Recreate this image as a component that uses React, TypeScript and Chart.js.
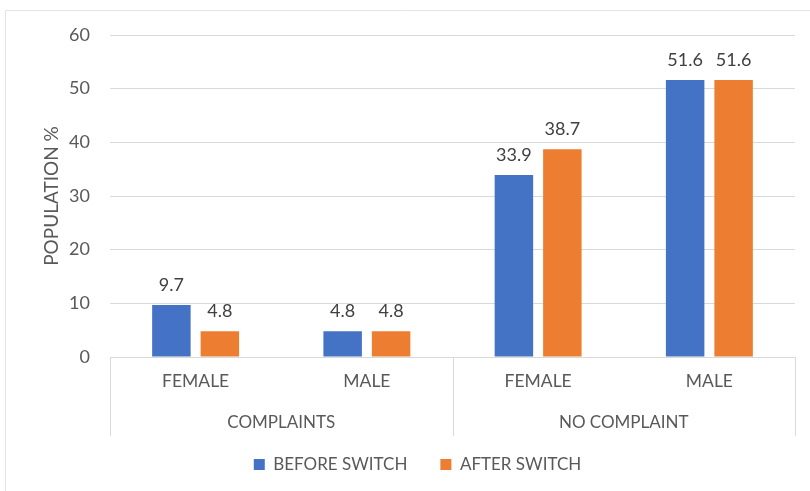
import React, { useEffect, useRef } from "react";
import { Chart, registerables } from "chart.js";

Chart.register(...registerables);

const categories = ["FEMALE", "MALE", "FEMALE", "MALE"];
const groups = ["COMPLAINTS", "NO COMPLAINT"];
const groupSizes = [2, 2];
const beforeSwitch = [9.7, 4.8, 33.9, 51.6];
const afterSwitch = [4.8, 4.8, 38.7, 51.6];
const seriesNames = ["BEFORE SWITCH", "AFTER SWITCH"];
const yTicksMax = 60;
const yStep = 10;

const FONT = "Lato, 'Liberation Sans', sans-serif";
const TEXT = "#595959";
const LINE = "#d9d9d9";

const decorPlugin = {
  id: "decor",
  beforeDraw(chart: any) {
    const { ctx, width, height } = chart;
    ctx.save();
    ctx.fillStyle = "#ffffff";
    ctx.fillRect(0, 0, width, height);
    ctx.strokeStyle = "#e3e3e3";
    ctx.lineWidth = 1;
    ctx.beginPath();
    ctx.moveTo(5.5, height);
    ctx.lineTo(5.5, 10.5);
    ctx.lineTo(width, 10.5);
    ctx.stroke();
    ctx.restore();
  },
  afterDraw(chart: any) {
    const { ctx, chartArea } = chart;
    const x = chart.scales.x;
    const top = chartArea.bottom;
    const bottom = top + 79;
    ctx.save();
    ctx.strokeStyle = LINE;
    ctx.lineWidth = 1;
    const bounds: number[] = [chartArea.left];
    let idx = 0;
    groupSizes.forEach((n, gi) => {
      idx += n;
      if (gi < groupSizes.length - 1) {
        bounds.push((x.getPixelForValue(idx - 1) + x.getPixelForValue(idx)) / 2);
      }
    });
    bounds.push(chartArea.right);
    ctx.beginPath();
    bounds.forEach((b) => {
      const px = Math.round(b) + 0.5;
      ctx.moveTo(px, top);
      ctx.lineTo(px, bottom);
    });
    ctx.stroke();
    ctx.fillStyle = TEXT;
    ctx.font = `17px ${FONT}`;
    ctx.textAlign = "center";
    ctx.textBaseline = "middle";
    groups.forEach((g, i) => {
      ctx.fillText(g, (bounds[i] + bounds[i + 1]) / 2, top + 66);
    });
    ctx.restore();
  },
  afterDatasetsDraw(chart: any) {
    const { ctx } = chart;
    ctx.save();
    ctx.fillStyle = "#404040";
    ctx.font = `18px ${FONT}`;
    ctx.textAlign = "center";
    ctx.textBaseline = "alphabetic";
    chart.data.datasets.forEach((ds: any, di: number) => {
      const meta = chart.getDatasetMeta(di);
      meta.data.forEach((el: any, i: number) => {
        ctx.fillText(String(ds.data[i]), el.x, el.y - 14);
      });
    });
    ctx.restore();
  },
};

export default function App() {
  const ref = useRef<HTMLCanvasElement>(null);
  useEffect(() => {
    if (!ref.current) return;
    const chart = new Chart(ref.current, {
      type: "bar",
      data: {
        labels: categories,
        datasets: [
          { label: seriesNames[0], data: beforeSwitch, backgroundColor: "#4472C4" },
          { label: seriesNames[1], data: afterSwitch, backgroundColor: "#ED7D31" },
        ],
      },
      plugins: [decorPlugin],
      options: {
        animation: false,
        responsive: false,
        layout: { padding: { top: 35, right: 15, bottom: 8, left: 40 } },
        datasets: {
          bar: { categoryPercentage: 0.566, barPercentage: 0.794 },
        },
        scales: {
          x: {
            grid: { display: false },
            border: { display: true, color: LINE },
            ticks: { color: TEXT, font: { family: FONT, size: 17.5 }, padding: 6 },
            afterFit: (s: any) => {
              s.height = 66;
            },
          },
          y: {
            min: 0,
            max: yTicksMax,
            ticks: { stepSize: yStep, color: TEXT, font: { family: FONT, size: 18 }, padding: 20 },
            grid: { color: LINE, drawTicks: false, tickLength: 0 },
            border: { display: false },
            title: {
              display: true,
              text: "POPULATION %",
              color: TEXT,
              font: { family: FONT, size: 19 },
              padding: { top: 0, bottom: 0 },
            },
            afterFit: (s: any) => {
              s.width = 70;
            },
          },
        },
        plugins: {
          legend: {
            position: "bottom",
            labels: {
              color: TEXT,
              font: { family: FONT, size: 17 },
              boxWidth: 11,
              boxHeight: 11,
              padding: 33,
            },
          },
          tooltip: { enabled: false },
        },
      },
    });
    return () => chart.destroy();
  }, []);
  return (
    <div style={{ position: "absolute", left: 0, top: 0, width: 810, height: 491 }}>
      <canvas ref={ref} width={810} height={491} style={{ width: 810, height: 491 }} />
    </div>
  );
}
